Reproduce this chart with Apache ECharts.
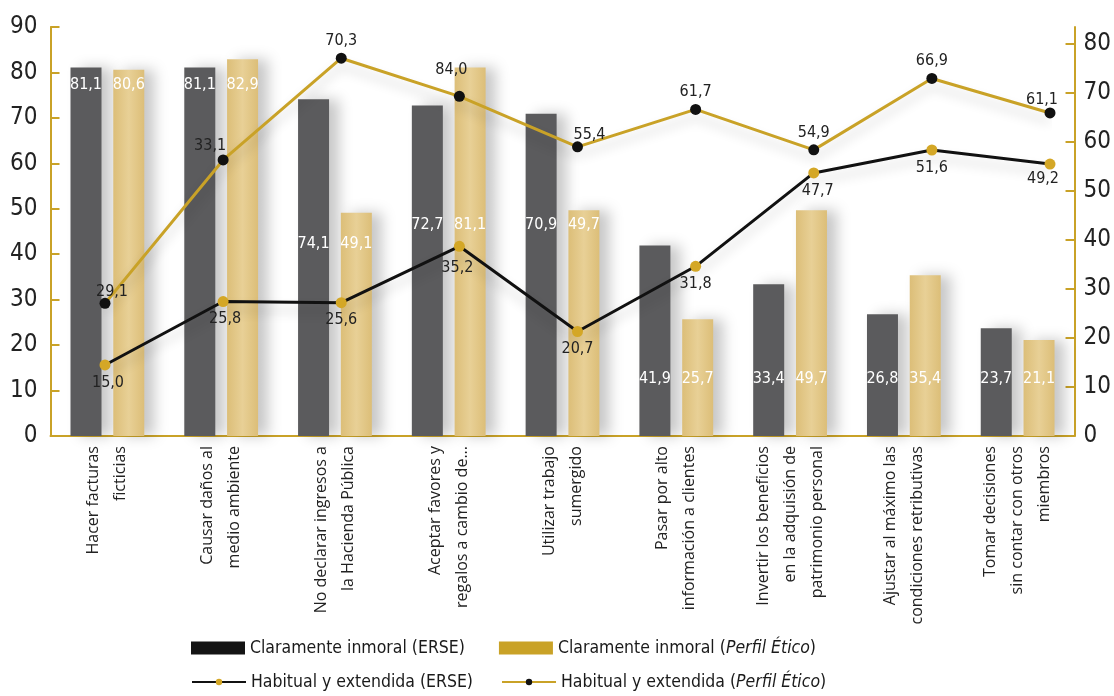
<!DOCTYPE html>
<html>
<head>
<meta charset="utf-8">
<script src="https://cdn.jsdelivr.net/npm/echarts@6/dist/echarts.min.js"></script>
<style>
  html, body { margin: 0; padding: 0; background: #fff; }
  #chart { width: 1114px; height: 696px; }
</style>
</head>
<body>
<div id="chart"></div>
<script>
// datos
var categories = [
    'Hacer facturas\nficticias',
    'Causar daños al\nmedio ambiente',
    'No declarar ingresos a\nla Hacienda Pública',
    'Aceptar favores y\nregalos a cambio de...',
    'Utilizar trabajo\nsumergido',
    'Pasar por alto\ninformación a clientes',
    'Invertir los beneficios\nen la adquisión de\npatrimonio personal',
    'Ajustar al máximo las\ncondiciones retributivas',
    'Tomar decisiones\nsin contar con otros\nmiembros'
];
var inmoralERSE = [81.1, 81.1, 74.1, 72.7, 70.9, 41.9, 33.4, 26.8, 23.7];
var inmoralPerfil = [80.6, 82.9, 49.1, 81.1, 49.7, 25.7, 49.7, 35.4, 21.1];
var habitualERSE = [15.0, 25.8, 25.6, 35.2, 20.7, 31.8, 47.7, 51.6, 49.2];
var habitualPerfil = [29.1, 53.2, 70.3, 63.9, 55.4, 61.7, 54.9, 66.9, 61.1];
var habitualPerfilLabels = ['29,1', '33,1', '70,3', '84,0', '55,4', '61,7', '54,9', '66,9', '61,1'];
var rightTicks = [0, 10, 20, 30, 40, 50, 60, 70, 80];

var names = {
    barERSE: 'Claramente inmoral (ERSE)',
    barPerfil: 'Claramente inmoral (Perfil Ético)',
    lineERSE: 'Habitual y extendida (ERSE)',
    linePerfil: 'Habitual y extendida (Perfil Ético)'
};

// estilos
var narrow = "'Liberation Sans Narrow', 'DejaVu Sans Condensed', sans-serif";
var gold = '#c9a227';
var barLabelLift = [338, 338, 179, 198, 198, 44, 44, 44, 44];
var erseLabelShift = [[3, 0], [2, 0], [0, 0], [-2, 4], [0, 0], [0, 0], [4, 0], [0, 0], [-7, -3]];
var perfilLabelShift = [[7, 6], [-13, 3], [0, 0], [-8, -9], [12, 5], [0, 0], [0, 0], [0, 0], [-8, 4]];

function coma(v) { return v.toFixed(1).replace('.', ','); }
function italica(n) { return n.replace('Perfil Ético', '{i|Perfil Ético}'); }

var chart = echarts.init(document.getElementById('chart'));

var barShadow = { shadowColor: 'rgba(0,0,0,0.22)', shadowBlur: 14, shadowOffsetX: 10 };
var legendText = {
    color: '#1a1a1a', fontFamily: narrow, fontSize: 17.5,
    rich: { i: { fontStyle: 'italic', fontFamily: narrow, fontSize: 17.5, color: '#1a1a1a' } }
};

var option = {
    backgroundColor: '#fff',
    animation: false,
    grid: [
        { left: 50.5, right: 37.5, top: 27, bottom: 260 },
        { left: 105, right: 64, top: 27, bottom: 260 }
    ],
    xAxis: [
        {
            type: 'category', gridIndex: 0, data: categories,
            axisLine: { lineStyle: { color: gold, width: 2 } },
            axisTick: { inside: true, length: 8, lineStyle: { color: gold, width: 2 } },
            axisLabel: {
                rotate: 90, interval: 0, margin: 10, color: '#222',
                fontFamily: "'Open Sans', sans-serif", fontSize: 16, lineHeight: 27,
                align: 'right'
            }
        },
        { type: 'category', gridIndex: 1, data: categories, boundaryGap: false, show: false }
    ],
    yAxis: [
        {
            type: 'value', gridIndex: 0, min: 0, max: 90, interval: 10,
            splitLine: { show: false },
            axisLine: { show: true, lineStyle: { color: gold, width: 2 } },
            axisTick: { show: true, inside: true, length: 9, lineStyle: { color: gold, width: 2 } },
            axisLabel: { color: '#222', fontFamily: narrow, fontSize: 24, margin: 13 }
        },
        {
            type: 'value', gridIndex: 0, position: 'right', min: 0, max: 83.5, interval: 10,
            splitLine: { show: false },
            axisLine: { show: true, lineStyle: { color: gold, width: 2 } },
            axisTick: { show: true, inside: true, length: 9, customValues: rightTicks, lineStyle: { color: gold, width: 2 } },
            axisLabel: { color: '#222', fontFamily: narrow, fontSize: 24, margin: 9, customValues: rightTicks }
        },
        { type: 'value', gridIndex: 1, min: 2.91, max: 72.54, show: false, splitLine: { show: false } },
        { type: 'value', gridIndex: 1, min: 6.8, max: 75.55, show: false, splitLine: { show: false } }
    ],
    legend: [
        {
            left: 186, top: 634, itemWidth: 54, itemHeight: 13, itemGap: 34, icon: 'rect',
            textStyle: legendText, formatter: italica,
            itemStyle: { shadowBlur: 0, shadowColor: 'transparent', shadowOffsetX: 0 },
            data: [
                { name: names.barERSE, itemStyle: { color: '#141414' } },
                { name: names.barPerfil, itemStyle: { color: gold } }
            ]
        },
        {
            left: 186, top: 668, itemWidth: 54, itemHeight: 8, itemGap: 28,
            textStyle: legendText, formatter: italica,
            lineStyle: { width: 2, shadowBlur: 0, shadowColor: 'transparent' },
            data: [names.lineERSE, names.linePerfil]
        }
    ],
    series: [
        {
            name: names.barERSE, type: 'bar', xAxisIndex: 0, yAxisIndex: 0,
            barWidth: 31, barGap: '38%',
            itemStyle: Object.assign({ color: '#5b5b5d' }, barShadow),
            label: {
                show: true, position: 'insideBottom', color: '#fff',
                fontFamily: narrow, fontSize: 16,
                formatter: function (p) { return coma(p.value); }
            },
            data: inmoralERSE.map(function (v, i) {
                return { value: v, label: { offset: [0, -barLabelLift[i]] } };
            })
        },
        {
            name: names.barPerfil, type: 'bar', xAxisIndex: 0, yAxisIndex: 0,
            barWidth: 31, barGap: '38%',
            itemStyle: Object.assign({
                color: new echarts.graphic.LinearGradient(0, 0, 1, 0, [
                    { offset: 0, color: '#dcbe78' },
                    { offset: 0.5, color: '#e8d096' },
                    { offset: 1, color: '#dcbe78' }
                ])
            }, barShadow),
            label: {
                show: true, position: 'insideBottom', color: '#fff',
                fontFamily: narrow, fontSize: 16,
                formatter: function (p) { return coma(p.value); }
            },
            data: inmoralPerfil.map(function (v, i) {
                return { value: v, label: { offset: [0, -barLabelLift[i]] } };
            })
        },
        {
            name: names.lineERSE, type: 'line', xAxisIndex: 1, yAxisIndex: 2,
            symbol: 'circle', symbolSize: 11, z: 5,
            lineStyle: { color: '#111', width: 3, shadowColor: 'rgba(0,0,0,0.2)', shadowBlur: 12, shadowOffsetY: 8 },
            itemStyle: { color: '#d4a726' },
            label: {
                show: true, position: 'bottom', distance: 4, color: '#222',
                fontFamily: narrow, fontSize: 16,
                formatter: function (p) { return coma(p.value); }
            },
            data: habitualERSE.map(function (v, i) {
                return { value: v, label: { offset: erseLabelShift[i] } };
            })
        },
        {
            name: names.linePerfil, type: 'line', xAxisIndex: 1, yAxisIndex: 3,
            symbol: 'circle', symbolSize: 11, z: 5,
            lineStyle: { color: gold, width: 3, shadowColor: 'rgba(0,0,0,0.2)', shadowBlur: 12, shadowOffsetY: 8 },
            itemStyle: { color: '#111' },
            label: {
                show: true, position: 'top', distance: 4, color: '#222',
                fontFamily: narrow, fontSize: 16,
                formatter: function (p) { return habitualPerfilLabels[p.dataIndex]; }
            },
            data: habitualPerfil.map(function (v, i) {
                return { value: v, label: { offset: perfilLabelShift[i] } };
            })
        }
    ]
};

chart.setOption(option);
</script>
</body>
</html>
